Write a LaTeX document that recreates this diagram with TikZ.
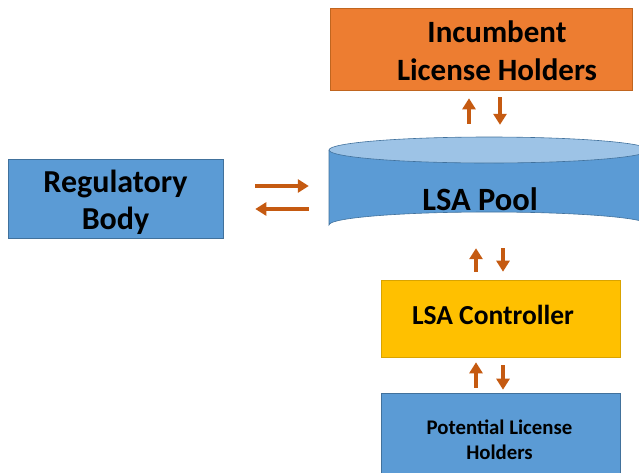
\documentclass[tikz,border=0pt]{standalone}
\usepackage{fontspec}
\setmainfont{Carlito}
\usetikzlibrary{arrows.meta}
\definecolor{incorange}{HTML}{ED7D31}
\definecolor{incedge}{HTML}{C0651F}
\definecolor{boxblue}{HTML}{5B9BD5}
\definecolor{blueedge}{HTML}{41719C}
\definecolor{poolblue}{HTML}{5B9BD5}
\definecolor{pooltop}{HTML}{9DC3E6}
\definecolor{gold}{HTML}{FFC000}
\definecolor{goldedge}{HTML}{D9A300}
\definecolor{arrcol}{HTML}{C55A11}
\tikzset{
  box/.style={rectangle, draw, line width=0.6pt, inner sep=0pt},
  lbl/.style={align=center, inner sep=0pt},
  arr/.style={draw=arrcol, line width=4.5pt, -{Triangle[width=13pt,length=11pt]}},
}
\begin{document}
\begin{tikzpicture}[x=1pt,y=-1pt]
\useasboundingbox (0,0) rectangle (639,472);
% boxes
\node[box, fill=incorange, draw=incedge, minimum width=302pt, minimum height=82pt] (inc) at (481,49) {};
\node[lbl, font=\bfseries\fontsize{31}{38}\selectfont] (inctxt) at (497,51) {Incumbent\\License Holders};
\node[box, fill=boxblue, draw=blueedge, minimum width=215pt, minimum height=79pt] (reg) at (115.5,198.5) {};
\node[lbl, font=\bfseries\fontsize{32}{37}\selectfont] (regtxt) at (115.5,202) {Regulatory\\Body};
\node[box, fill=gold, draw=goldedge, minimum width=239pt, minimum height=77pt] (ctrl) at (500.5,318.5) {};
\node[lbl, font=\bfseries\fontsize{27.5}{32}\selectfont] (ctrltxt) at (493,315) {LSA Controller};
\node[box, fill=boxblue, draw=blueedge, minimum width=239pt, minimum height=94pt] (pot) at (500.5,440) {};
\node[lbl, font=\bfseries\fontsize{20.8}{25}\selectfont] (pottxt) at (499.5,440) {Potential License\\Holders};
% cylinder
\fill[poolblue] (329,150) -- (329,225) arc[start angle=180, end angle=360, x radius=160, y radius=13] -- (649,150) -- cycle;
\draw[blueedge, line width=0.6pt] (329,150) -- (329,225) arc[start angle=180, end angle=360, x radius=160, y radius=13] -- (649,150);
\draw[blueedge, line width=0.6pt, fill=pooltop] (489,150) ellipse[x radius=160, y radius=13];
\node[rectangle, minimum width=320pt, minimum height=101pt, inner sep=0pt] (pool) at (489,187.5) {};
\node[lbl, font=\bfseries\fontsize{32.5}{38}\selectfont] (pooltxt) at (480,199) {LSA Pool};
% arrow columns
\coordinate (a1) at (469,0);
\coordinate (a2) at (500,0);
\coordinate (b1) at (476,0);
\coordinate (b2) at (503,0);
% inc <-> pool
\draw[arr, shorten <=13pt, shorten >=8pt] (pool.north -| a1) -- (inc.south -| a1);
\draw[arr, shorten <=7pt, shorten >=12pt] (inc.south -| a2) -- (pool.north -| a2);
% reg <-> pool
\draw[arr, shorten <=32pt, shorten >=20pt] ([yshift=12.5pt]reg.east) -- ([yshift=12.5pt]reg.east -| pool.west);
\draw[arr, shorten <=20pt, shorten >=32pt] ([yshift=-10.5pt]reg.east -| pool.west) -- ([yshift=-10.5pt]reg.east);
% pool <-> ctrl
\draw[arr, shorten <=8pt, shorten >=10pt] (ctrl.north -| b1) -- (pool.south -| b1);
\draw[arr, shorten <=10pt, shorten >=8pt] (pool.south -| b2) -- (ctrl.north -| b2);
% ctrl <-> pot
\draw[arr, shorten <=5pt, shorten >=5pt] (pot.north -| b1) -- (ctrl.south -| b1);
\draw[arr, shorten <=8pt, shorten >=3pt] (ctrl.south -| b2) -- (pot.north -| b2);
\end{tikzpicture}
\end{document}
